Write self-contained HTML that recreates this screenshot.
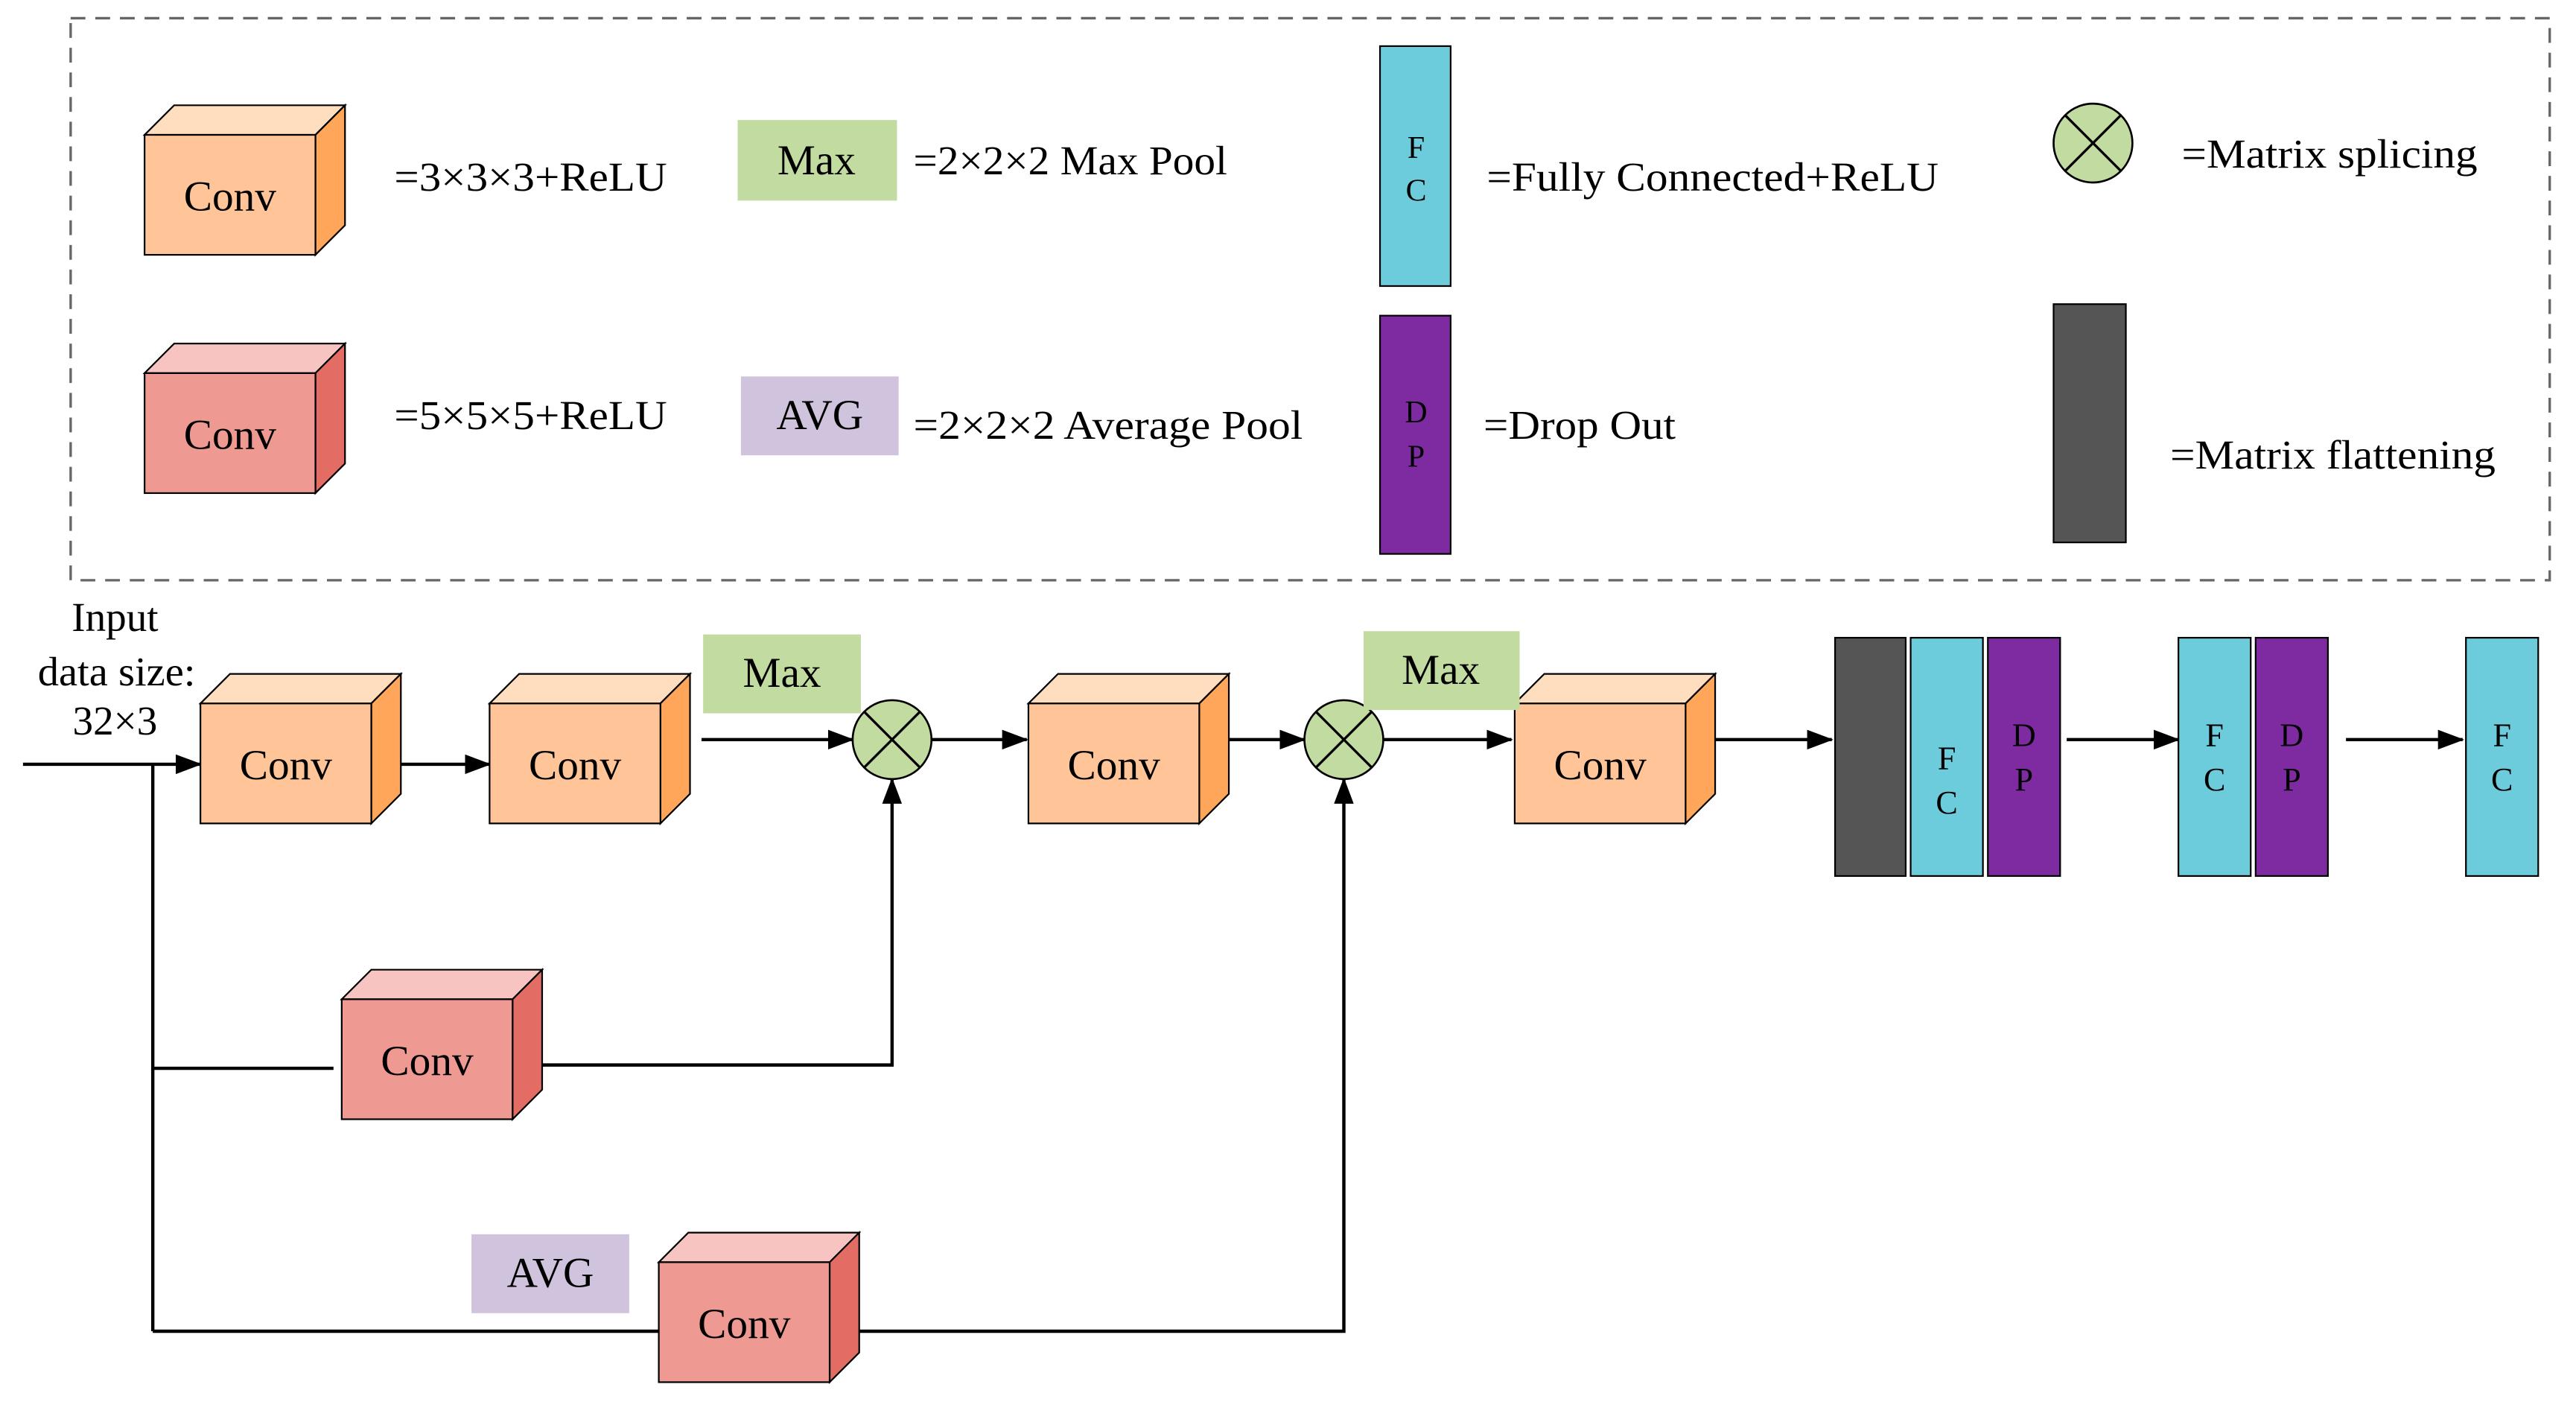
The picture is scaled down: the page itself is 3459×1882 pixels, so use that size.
<!DOCTYPE html>
<html><head><meta charset="utf-8"><style>html,body{margin:0;padding:0;background:#fff}svg{display:block}</style></head><body>
<svg width="3459" height="1882" viewBox="0 0 1568 853" xmlns="http://www.w3.org/2000/svg" font-family="'Liberation Serif', serif">
<defs>
<marker id="a" markerWidth="16" markerHeight="12" refX="15" refY="6" orient="auto" markerUnits="userSpaceOnUse"><path d="M0,0 L16,6 L0,12 z" fill="#000"/></marker>
<g id="oc"><path d="M0,18 L18,0 L122,0 L104,18 z" fill="#FFDDBF" stroke="#000" stroke-width="1"/><path d="M104,18 L122,0 L122,73 L104,91 z" fill="#FFA65A" stroke="#000" stroke-width="1"/><rect x="0" y="18" width="104" height="73" fill="#FFC599" stroke="#000" stroke-width="1"/><text x="52" y="64" font-size="26" text-anchor="middle">Conv</text></g>
<g id="rc"><path d="M0,18 L18,0 L122,0 L104,18 z" fill="#F7C4C1" stroke="#000" stroke-width="1"/><path d="M104,18 L122,0 L122,73 L104,91 z" fill="#E36D64" stroke="#000" stroke-width="1"/><rect x="0" y="18" width="104" height="73" fill="#EE9A93" stroke="#000" stroke-width="1"/><text x="52" y="64" font-size="26" text-anchor="middle">Conv</text></g>
<g id="cx"><circle cx="0" cy="0" r="24" fill="#C2DBA0" stroke="#000" stroke-width="1.2"/><path d="M-17,-17 L17,17 M17,-17 L-17,17" stroke="#000" stroke-width="1.5"/></g>
</defs>
<rect x="43" y="11" width="1509" height="342" fill="none" stroke="#666" stroke-width="1.5" stroke-dasharray="9,6"/>
<g font-size="25">
<use href="#oc" x="88" y="64"/>
<text x="240" y="116" textLength="166" lengthAdjust="spacingAndGlyphs">=3×3×3+ReLU</text>
<rect x="449" y="73" width="97" height="49" fill="#C2DBA0"/><text x="497" y="106" text-anchor="middle" font-size="26">Max</text>
<text x="556" y="106" textLength="191" lengthAdjust="spacingAndGlyphs">=2×2×2 Max Pool</text>
<use href="#rc" x="88" y="209"/>
<text x="240" y="261" textLength="166" lengthAdjust="spacingAndGlyphs">=5×5×5+ReLU</text>
<rect x="451" y="229" width="96" height="48" fill="#D0C3DE"/><text x="499" y="261" text-anchor="middle" font-size="26">AVG</text>
<text x="556" y="267" textLength="237" lengthAdjust="spacingAndGlyphs">=2×2×2 Average Pool</text>
<rect x="840" y="28" width="43" height="146" fill="#6DCCDC" stroke="#000" stroke-width="1"/>
<text x="862" y="96" font-size="19" text-anchor="middle">F</text><text x="862" y="122" font-size="19" text-anchor="middle">C</text>
<text x="905" y="116" textLength="275" lengthAdjust="spacingAndGlyphs">=Fully Connected+ReLU</text>
<rect x="840" y="192" width="43" height="145" fill="#7E2AA0" stroke="#000" stroke-width="1"/>
<text x="862" y="257" font-size="19" text-anchor="middle">D</text><text x="862" y="284" font-size="19" text-anchor="middle">P</text>
<text x="903" y="267" textLength="117" lengthAdjust="spacingAndGlyphs">=Drop Out</text>
<use href="#cx" x="1274" y="87"/>
<text x="1328" y="102" textLength="180" lengthAdjust="spacingAndGlyphs">=Matrix splicing</text>
<rect x="1250" y="185" width="44" height="145" fill="#555" stroke="#000" stroke-width="1"/>
<text x="1321" y="285" textLength="198" lengthAdjust="spacingAndGlyphs">=Matrix flattening</text>
<text x="70" y="384" text-anchor="middle">Input</text>
<text x="71" y="417" text-anchor="middle" textLength="96" lengthAdjust="spacingAndGlyphs">data size:</text>
<text x="70" y="447" text-anchor="middle">32×3</text>
</g>
<g stroke="#000" stroke-width="2" fill="none">
<line x1="14" y1="465" x2="122" y2="465" marker-end="url(#a)"/>
<line x1="232" y1="465" x2="298" y2="465" marker-end="url(#a)"/>
<line x1="427" y1="450" x2="519" y2="450" marker-end="url(#a)"/>
<line x1="567" y1="450" x2="625" y2="450" marker-end="url(#a)"/>
<line x1="742" y1="450" x2="794" y2="450" marker-end="url(#a)"/>
<line x1="842" y1="450" x2="920" y2="450" marker-end="url(#a)"/>
<line x1="1044" y1="450" x2="1115" y2="450" marker-end="url(#a)"/>
<line x1="1258" y1="450" x2="1326" y2="450" marker-end="url(#a)"/>
<line x1="1428" y1="450" x2="1499" y2="450" marker-end="url(#a)"/>
<line x1="93" y1="465" x2="93" y2="810"/>
<line x1="93" y1="650" x2="203" y2="650"/>
<polyline points="330,648 543,648 543,474" marker-end="url(#a)"/>
<line x1="93" y1="810" x2="401" y2="810"/>
<polyline points="523,810 818,810 818,474" marker-end="url(#a)"/>
</g>
<use href="#oc" x="122" y="410"/>
<use href="#oc" x="298" y="410"/>
<use href="#oc" x="626" y="410"/>
<use href="#oc" x="922" y="410"/>
<use href="#rc" x="208" y="590"/>
<use href="#rc" x="401" y="750"/>
<use href="#cx" x="543" y="450"/>
<use href="#cx" x="818" y="450"/>
<g font-size="26">
<rect x="428" y="386" width="96" height="48" fill="#C2DBA0"/><text x="476" y="418" text-anchor="middle">Max</text>
<rect x="830" y="384" width="95" height="48" fill="#C2DBA0"/><text x="877" y="416" text-anchor="middle">Max</text>
<rect x="287" y="751" width="96" height="48" fill="#D0C3DE"/><text x="335" y="783" text-anchor="middle">AVG</text>
</g>
<g stroke="#000" stroke-width="1">
<rect x="1117" y="388" width="43" height="145" fill="#555"/>
<rect x="1163" y="388" width="44" height="145" fill="#6DCCDC"/>
<rect x="1210" y="388" width="44" height="145" fill="#7E2AA0"/>
<rect x="1326" y="388" width="44" height="145" fill="#6DCCDC"/>
<rect x="1373" y="388" width="44" height="145" fill="#7E2AA0"/>
<rect x="1501" y="388" width="44" height="145" fill="#6DCCDC"/>
</g>
<g font-size="20" text-anchor="middle">
<text x="1185" y="468">F</text><text x="1185" y="495">C</text>
<text x="1232" y="454">D</text><text x="1232" y="481">P</text>
<text x="1348" y="454">F</text><text x="1348" y="481">C</text>
<text x="1395" y="454">D</text><text x="1395" y="481">P</text>
<text x="1523" y="454">F</text><text x="1523" y="481">C</text>
</g>
</svg>
</body></html>
